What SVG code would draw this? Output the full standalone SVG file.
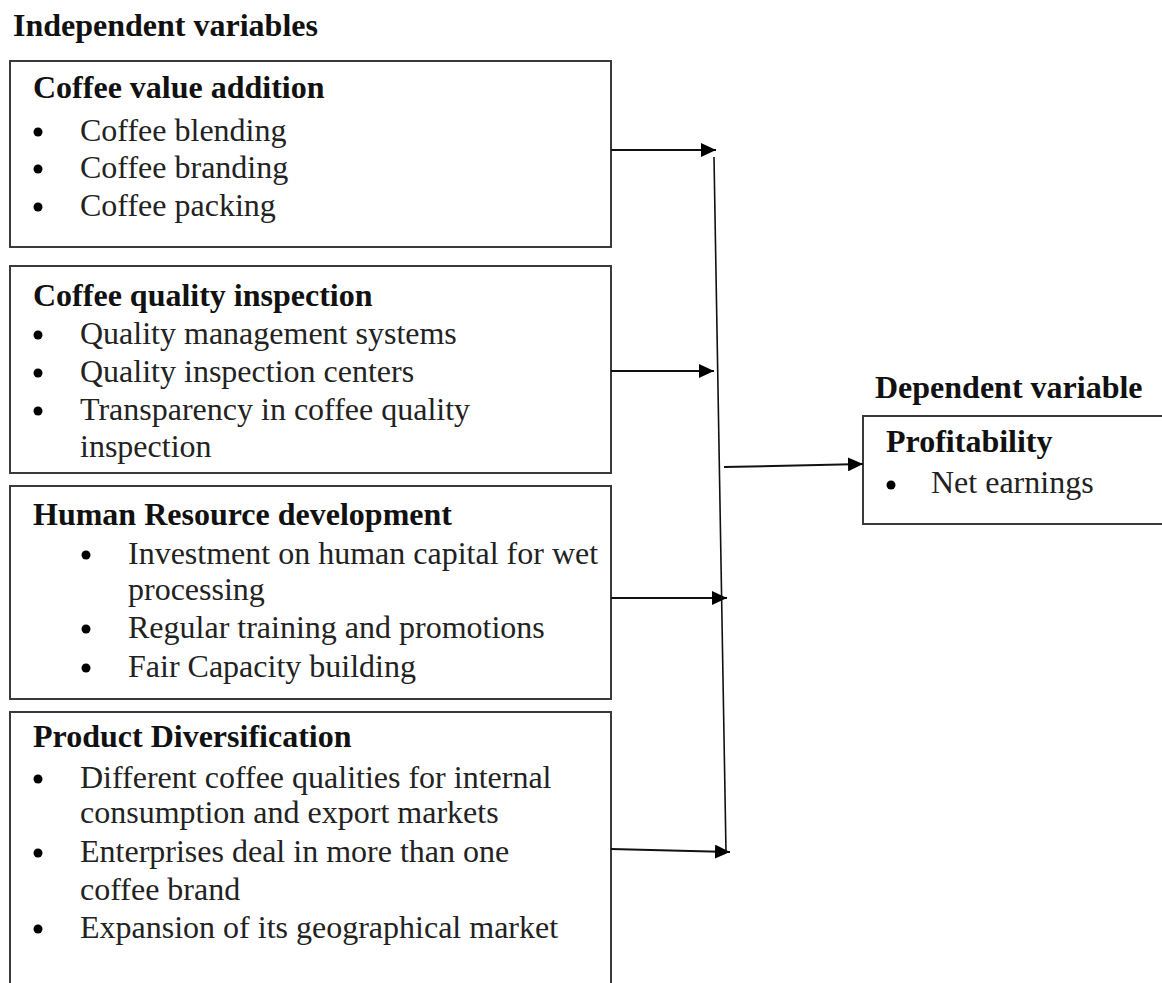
<svg xmlns="http://www.w3.org/2000/svg" width="1162" height="983" viewBox="0 0 1162 983">
  <style>
    .box { fill: #ffffff; stroke: #3a3a3a; stroke-width: 2; }
    .hd { font-family: "Liberation Serif", "Times New Roman", serif; font-weight: bold; font-size: 32px; fill: #111; }
    .tt { font-family: "Liberation Serif", "Times New Roman", serif; font-weight: bold; font-size: 32px; fill: #111; }
    .it { font-family: "Liberation Serif", "Times New Roman", serif; font-size: 32px; fill: #222; }
    .dot { fill: #000; }
    .conn { stroke: #111; stroke-width: 2; fill: none; }
  </style>
  <defs>
    <marker id="arrow" markerWidth="15" markerHeight="14" refX="15" refY="7" orient="auto" markerUnits="userSpaceOnUse">
      <path d="M0,0 L15,7 L0,14 z" fill="#000"/>
    </marker>
  </defs>
  <rect width="1162" height="983" fill="#ffffff"/>

  <text class="hd" x="13" y="36">Independent variables</text>

  <g id="node-value-addition">
    <rect class="box" x="10" y="61" width="601" height="186"/>
    <text class="tt" x="33" y="98">Coffee value addition</text>
    <circle class="dot" cx="38" cy="132" r="4.5"/><text class="it" x="80" y="141">Coffee blending</text>
    <circle class="dot" cx="38" cy="169" r="4.5"/><text class="it" x="80" y="178">Coffee branding</text>
    <circle class="dot" cx="38" cy="207" r="4.5"/><text class="it" x="80" y="216">Coffee packing</text>
  </g>

  <g id="node-quality-inspection">
    <rect class="box" x="10" y="266" width="601" height="207"/>
    <text class="tt" x="33" y="306">Coffee quality inspection</text>
    <circle class="dot" cx="38" cy="335" r="4.5"/><text class="it" x="80" y="344">Quality management systems</text>
    <circle class="dot" cx="38" cy="373" r="4.5"/><text class="it" x="80" y="382">Quality inspection centers</text>
    <circle class="dot" cx="38" cy="411" r="4.5"/><text class="it" x="80" y="420">Transparency in coffee quality</text>
    <text class="it" x="80" y="457">inspection</text>
  </g>

  <g id="node-human-resource">
    <rect class="box" x="10" y="486" width="601" height="213"/>
    <text class="tt" x="33" y="525">Human Resource development</text>
    <circle class="dot" cx="86" cy="555" r="4.5"/><text class="it" x="128" y="564">Investment on human capital for wet</text>
    <text class="it" x="128" y="600">processing</text>
    <circle class="dot" cx="86" cy="629" r="4.5"/><text class="it" x="128" y="638">Regular training and promotions</text>
    <circle class="dot" cx="86" cy="668" r="4.5"/><text class="it" x="128" y="677">Fair Capacity building</text>
  </g>

  <g id="node-product-diversification">
    <rect class="box" x="10" y="712" width="601" height="290"/>
    <text class="tt" x="33" y="747">Product Diversification</text>
    <circle class="dot" cx="38" cy="779" r="4.5"/><text class="it" x="80" y="788">Different coffee qualities for internal</text>
    <text class="it" x="80" y="823">consumption and export markets</text>
    <circle class="dot" cx="38" cy="853" r="4.5"/><text class="it" x="80" y="862">Enterprises deal in more than one</text>
    <text class="it" x="80" y="900">coffee brand</text>
    <circle class="dot" cx="38" cy="929" r="4.5"/><text class="it" x="80" y="938">Expansion of its geographical market</text>
  </g>

  <text class="hd" x="875" y="398">Dependent variable</text>

  <g id="node-profitability">
    <rect class="box" x="863" y="416" width="310" height="108"/>
    <text class="tt" x="886" y="452">Profitability</text>
    <circle class="dot" cx="891" cy="485" r="4.5"/><text class="it" x="931" y="493">Net earnings</text>
  </g>

  <g id="connectors">
    <line class="conn" x1="611" y1="150" x2="716" y2="150" marker-end="url(#arrow)"/>
    <line class="conn" x1="611" y1="371" x2="714" y2="371" marker-end="url(#arrow)"/>
    <line class="conn" x1="611" y1="598" x2="727" y2="598" marker-end="url(#arrow)"/>
    <line class="conn" x1="611" y1="849" x2="730" y2="852" marker-end="url(#arrow)"/>
    <line class="conn" x1="714" y1="157" x2="726" y2="852" style="stroke-width:1.6"/>
    <line class="conn" x1="724" y1="467" x2="863" y2="464" marker-end="url(#arrow)"/>
  </g>
</svg>
